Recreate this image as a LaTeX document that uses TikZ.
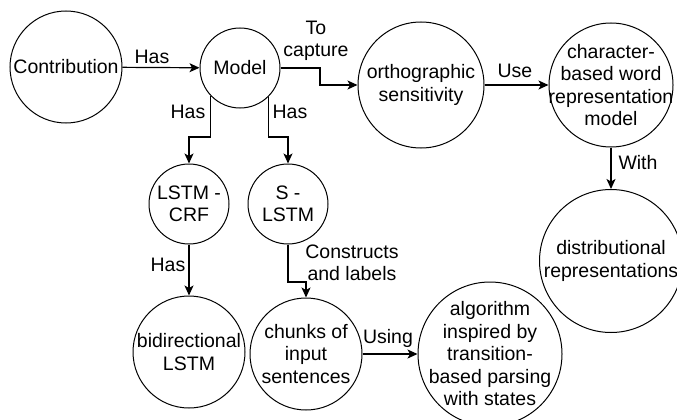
\documentclass[tikz,border=0pt]{standalone}
\usepackage{fontspec}
\setmainfont{Liberation Sans}
\usetikzlibrary{arrows.meta}
\begin{document}
\begin{tikzpicture}[x=1pt,y=-1pt,
  ent/.style={draw, circle, line width=1pt, minimum size=#1, inner sep=0pt},
  txt/.style={align=center, font=\fontsize{19.5}{22.5}\selectfont, inner sep=0pt},
  lab/.style={align=center, font=\fontsize{19.5}{22.5}\selectfont, inner sep=0pt},
  arr/.style={line width=1.2pt, -{Stealth[length=10pt,width=9pt,inset=2.5pt]}}]
\clip (0,0) rectangle (677,420);
\fill[white] (0,0) rectangle (677,420);
% entities
\node[ent=112, label={[txt]center:Contribution}] (contrib) at (66,67) {};
\node[ent=80, label={[txt]center:Model}] (model) at (240,68) {};
\node[ent=126, label={[txt]center:orthographic\\sensitivity}] (ortho) at (421,85) {};
\node[ent=124, label={[txt]center:character-\\based word\\representation\\model}] (char) at (611,85) {};
\node[ent=143, label={[txt]center:distributional\\representations}] (dist) at (611,261) {};
\node[ent=80, label={[txt]center:LSTM -\\CRF}] (lstmcrf) at (189,204) {};
\node[ent=80, label={[txt]center:S -\\LSTM}] (slstm) at (288,204) {};
\node[ent=112, label={[txt]center:bidirectional\\LSTM}] (bidir) at (189,352) {};
\node[ent=112, label={[txt]center:chunks of\\input\\sentences}] (chunks) at (306,354) {};
\node[ent=144, label={[txt]center:algorithm\\inspired by\\transition-\\based parsing\\with states}] (algo) at (490,354) {};
% connectors
\draw[arr] (contrib) -- (model);
\draw[arr] (model.223.5) -- (model.223.5 |- 0,137) -| (lstmcrf.north);
\draw[arr] (model.314.4) -- (model.314.4 |- 0,137) -| (slstm.north);
\draw[arr] (model.east) -- (model.east -| 320,0) |- (ortho.west);
\draw[arr] (ortho.east) -- (char.west);
\draw[arr] (char.south) -- (dist.north);
\draw[arr] (lstmcrf.south) -- (bidir.north);
\draw[arr] (slstm.south) -- (slstm.south |- 0,282) -| (chunks.north);
\draw[arr] (chunks.east) -- (algo.west);
% connector labels
\node[lab] (l1) at (152,57) {Has};
\node[lab] (l2) at (188,112) {Has};
\node[lab] (l3) at (290,112) {Has};
\node[lab] (l4) at (316,41) {To\\capture};
\node[lab] (l5) at (515,71) {Use};
\node[lab] (l6) at (638,163) {With};
\node[lab] (l7) at (168,265) {Has};
\node[lab] (l8) at (352,263) {Constructs\\and labels};
\node[lab] (l9) at (388,338) {Using};
\end{tikzpicture}
\end{document}
